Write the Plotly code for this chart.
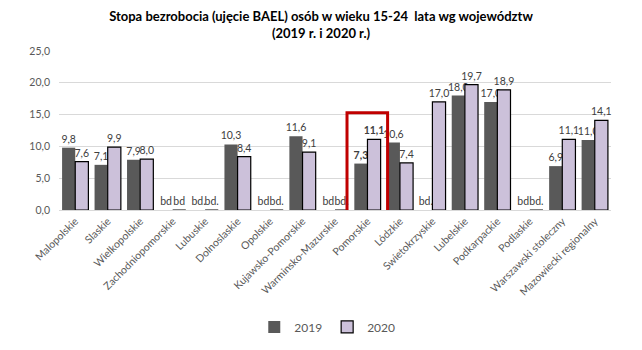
import plotly.graph_objects as go

categories = ["Malopolskie", "Slaskie", "Wielkopolskie", "Zachodniopomorskie", "Lubuskie",
              "Dolnoslaskie", "Opolskie", "Kujawsko-Pomorskie", "Warminsko-Mazurskie", "Pomorskie",
              "Lódzkie", "Swietokrzyskie", "Lubelskie", "Podkarpackie", "Podlaskie",
              "Warszawski stoleczny", "Mazowiecki regionalny"]
v2019 = [9.8, 7.1, 7.9, None, None, 10.3, None, 11.6, None, 7.3, 10.6, None, 18.0, 17.0, None, 6.9, 11.0]
v2020 = [7.6, 9.9, 8.0, None, None, 8.4, None, 9.1, None, 11.1, 7.4, 17.0, 19.7, 18.9, None, 11.1, 14.1]
missing2019 = ["", "", "", "bd", "bd.", "", "bd", "", "bd", "", "", "bd.", "", "", "bd", "", ""]
missing2020 = ["", "", "", "bd", "bd.", "", "bd.", "", "bd.", "", "", "", "", "", "bd.", "", ""]
highlight = "Pomorskie"
yticks = [0, 5, 10, 15, 20, 25]


def labels(vals, miss):
    out = []
    for c, v, m in zip(categories, vals, miss):
        if v is None:
            out.append(m)
        else:
            s = f"{v:.1f}".replace(".", ",")
            out.append(f"<b>{s}</b>" if c == highlight else s)
    return out


def zeros(vals):
    return [0 if v is None else v for v in vals]


lblfont = dict(size=10.5, color="#404040", family="Lato")

fig = go.Figure()
fig.add_trace(go.Bar(
    x=categories, y=zeros(v2019), name="2019",
    marker=dict(color="#595959", line=dict(width=0)),
    text=labels(v2019, missing2019), textposition="outside", constraintext="none",
    cliponaxis=False, textfont=lblfont,
))
fig.add_trace(go.Bar(
    x=categories, y=zeros(v2020), name="2020",
    marker=dict(color="#ccc1da", line=dict(width=1.2, color="#000000")),
    text=labels(v2020, missing2020), textposition="outside", constraintext="none",
    cliponaxis=False, textfont=lblfont,
))

hi = categories.index(highlight)
fig.add_shape(type="rect", xref="x", yref="y",
              x0=hi - 0.63, x1=hi + 0.62, y0=-1.15, y1=15.3,
              line=dict(color="#c00000", width=3), fillcolor="rgba(0,0,0,0)", layer="above")

fig.update_layout(
    width=642, height=350,
    margin=dict(l=59, r=31, t=51, b=140),
    paper_bgcolor="white", plot_bgcolor="white",
    separators=", ",
    barmode="group", bargap=0.19, bargroupgap=0,
    font=dict(family="Lato", color="#595959"),
    title=dict(text="Stopa bezrobocia (ujęcie BAEL) osób w wieku 15-24  lata wg województw<br>(2019 r. i 2020 r.)",
               x=0.5, xanchor="center", y=0.941, yanchor="middle",
               font=dict(family="Lato", size=13, color="#000000", weight="bold")),
    legend=dict(orientation="h", x=0.486, xanchor="center", yref="container", y=0.066, yanchor="middle",
                font=dict(size=12, color="#595959"), itemwidth=30, traceorder="normal"),
    yaxis=dict(range=[0, 25], tickvals=yticks, tickformat=".1f", showgrid=True,
               gridcolor="#d9d9d9", gridwidth=1, zeroline=False, showline=False,
               tickfont=dict(size=10.5, color="#595959"), ticks="", ticklabelstandoff=8),
    xaxis=dict(tickangle=-45, tickfont=dict(size=10.5, color="#595959"), showline=True,
               linecolor="#d9d9d9", linewidth=1, ticks="", showgrid=False),
)

fig.write_html("out.html")
